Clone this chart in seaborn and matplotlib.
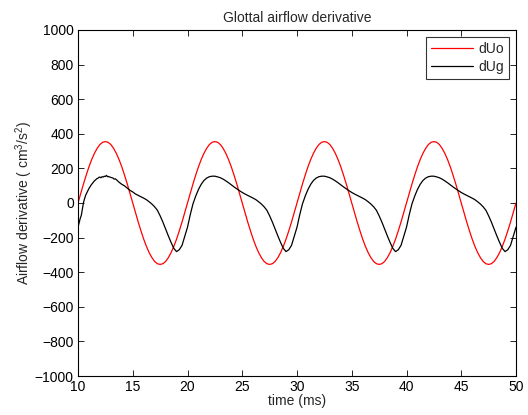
import numpy as np
import pandas as pd
import matplotlib
matplotlib.use("Agg")
import matplotlib.pyplot as plt
import seaborn as sns

# ---- data ----
# dUo: sampled every 0.25 ms from 10 to 50 ms
t_uo = np.arange(10.0, 50.0001, 0.25)
duo = [
    0, 55, 110, 161, 209, 251, 287, 316, 338, 351, 355, 351, 338, 316, 287, 251, 209, 161, 110, 55,
    0, -55, -110, -161, -209, -251, -287, -316, -338, -351, -355, -351, -338, -316, -287, -251, -209, -161, -110, -55,
    0, 55, 110, 161, 209, 251, 287, 316, 338, 351, 355, 351, 338, 316, 287, 251, 209, 161, 110, 55,
    0, -55, -110, -161, -209, -251, -287, -316, -338, -351, -355, -351, -338, -316, -287, -251, -209, -161, -110, -55,
    0, 55, 110, 161, 209, 251, 287, 316, 338, 351, 355, 351, 338, 316, 287, 251, 209, 161, 110, 55,
    0, -55, -110, -161, -209, -251, -287, -316, -338, -351, -355, -351, -338, -316, -287, -251, -209, -161, -110, -55,
    0, 55, 110, 161, 209, 251, 287, 316, 338, 351, 355, 351, 338, 316, 287, 251, 209, 161, 110, 55,
    0, -55, -110, -161, -209, -251, -287, -316, -338, -351, -355, -351, -338, -316, -287, -251, -209, -161, -110, -55,
    0,
]

# dUg: 0.1 ms samples over the noisy onset (10-13.5 ms), then 0.25 ms samples
t_ug = np.concatenate([np.arange(10.0, 13.5001, 0.1), np.arange(13.75, 50.0001, 0.25)])
dug = [
    # 10.0 - 13.5 (0.1 ms)
    -140, -115, -90, -72, -35, 2, 25, 45, 58, 70,
    84, 94, 104, 112, 120, 128, 133, 140, 142, 148,
    150, 146, 152, 150, 155, 153, 160, 152, 153, 150,
    148, 146, 144, 138, 140, 135,
    # 13.75 - 19.75
    120, 108, 99, 86, 73, 64, 52, 44, 36, 28, 19, 7, -6, -22, -42, -74, -110, -150, -190, -228, -262, -281, -270, -245, -192,
    # 20.0 - 29.75
    -140, -68, -5, 40, 78, 108, 130, 144, 152, 155, 155, 151, 146, 138, 128, 117, 105, 93, 82, 71,
    61, 52, 44, 36, 28, 19, 7, -6, -22, -42, -74, -110, -150, -190, -228, -262, -281, -270, -245, -192,
    # 30.0 - 39.75
    -140, -68, -5, 40, 78, 108, 130, 144, 152, 155, 155, 151, 146, 138, 128, 117, 105, 93, 82, 71,
    61, 52, 44, 36, 28, 19, 7, -6, -22, -42, -74, -110, -150, -190, -228, -262, -281, -270, -245, -192,
    # 40.0 - 49.75
    -140, -68, -5, 40, 78, 108, 130, 144, 152, 155, 155, 151, 146, 138, 128, 117, 105, 93, 82, 71,
    61, 52, 44, 36, 28, 19, 7, -6, -22, -42, -74, -110, -150, -190, -228, -262, -281, -270, -245, -192,
    # 50.0
    -140,
]

x_ticks = [10, 15, 20, 25, 30, 35, 40, 45, 50]
y_ticks = [-1000, -800, -600, -400, -200, 0, 200, 400, 600, 800, 1000]

df_uo = pd.DataFrame({"t": t_uo, "v": duo})
df_ug = pd.DataFrame({"t": t_ug, "v": dug})

sns.set_style("ticks")
plt.rcParams["font.family"] = ["Liberation Sans", "DejaVu Sans"]
plt.rcParams["mathtext.default"] = "regular"
plt.rcParams["font.size"] = 10

fig = plt.figure(figsize=(5.28, 4.15), dpi=100)
ax = fig.add_axes([78 / 528, 1 - 376 / 415, (516 - 78) / 528, (376 - 30) / 415])

sns.lineplot(data=df_uo, x="t", y="v", ax=ax, color="#ff0000", lw=0.9, label="dUo", estimator=None)
sns.lineplot(data=df_ug, x="t", y="v", ax=ax, color="#000000", lw=0.9, label="dUg", estimator=None)

ax.set_xlim(10, 50)
ax.set_ylim(-1000, 1000)
ax.set_xticks(x_ticks)
ax.set_yticks(y_ticks)
ax.set_xticklabels([str(v) for v in x_ticks])
ax.set_yticklabels([str(v).replace("-", "\u2212") for v in y_ticks])
ax.tick_params(direction="in", top=True, right=True, length=4, width=0.6, labelsize=10, colors="black", pad=3)
for s in ax.spines.values():
    s.set_visible(True)
    s.set_linewidth(0.8)
    s.set_color("black")

ax.set_xlabel("time (ms)", fontsize=10, labelpad=0)
ax.set_ylabel(r"Airflow derivative ( cm$^3$/s$^2$)", fontsize=10, labelpad=0)
ax.set_title("Glottal airflow derivative", fontsize=10, pad=6)

leg = ax.legend(loc="upper right", fontsize=10, frameon=True, fancybox=False, edgecolor="black",
                handlelength=3.0, borderpad=0.35, labelspacing=0.3, handletextpad=0.4,
                borderaxespad=0.5)
leg.get_frame().set_linewidth(0.8)

fig.savefig("out.png", dpi=100)
